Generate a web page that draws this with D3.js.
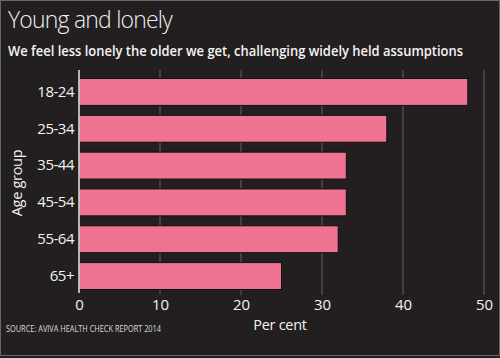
<!DOCTYPE html>
<html><head><meta charset="utf-8">
<script src="https://cdn.jsdelivr.net/npm/d3@7"></script>
<style>html,body{margin:0;padding:0;background:#231f20;}svg{display:block;}</style>
</head><body>
<script>
const categories = ["18-24","25-34","35-44","45-54","55-64","65+"];
const values = [48, 38, 33, 33, 32, 25];
const xTicks = [0, 10, 20, 30, 40, 50];
const title = "Young and lonely";
const subtitle = "We feel less lonely the older we get, challenging widely held assumptions";
const source = "SOURCE: AVIVA HEALTH CHECK REPORT 2014";

const W = 500, H = 358;
const svg = d3.select("body").append("svg").attr("width", W).attr("height", H);
svg.append("rect").attr("x",0.5).attr("y",0.5).attr("width",W-1).attr("height",H-3)
  .attr("fill","#231f20").attr("stroke","#6a6668").attr("stroke-width",1);

const x = d3.scaleLinear().domain([0,50]).range([79,484]);
const y = d3.scaleBand().domain(categories).range([73,295]).paddingInner(0.27).paddingOuter(0.15);

// grid
svg.append("g").selectAll("line").data(xTicks.slice(1)).join("line")
  .attr("x1",d=>x(d)).attr("x2",d=>x(d)).attr("y1",70).attr("y2",295)
  .attr("stroke","#5a5658").attr("stroke-width",1.2);

// bars
svg.append("g").selectAll("rect").data(values).join("rect")
  .attr("x", x(0)).attr("y",(d,i)=>y(categories[i]))
  .attr("width", d=>x(d)-x(0)).attr("height", y.bandwidth())
  .attr("fill","#f07393").attr("stroke","#111").attr("stroke-width",1);

// zero axis line
svg.append("line").attr("x1",x(0)).attr("x2",x(0)).attr("y1",70).attr("y2",293)
  .attr("stroke","#e8e8e8").attr("stroke-width",1.5);

const font = "'Open Sans', sans-serif";
// y axis labels
const yAxis = d3.axisLeft(y).tickSize(0).tickPadding(4);
const gy = svg.append("g").attr("transform",`translate(${x(0)-1},0)`).call(yAxis);
gy.select(".domain").remove();
gy.selectAll("text").attr("fill","#f2f2f2").attr("font-family",font).attr("font-size",15).attr("letter-spacing",-0.5);

// x axis labels
const xAxis = d3.axisBottom(x).tickValues(xTicks).tickSize(0).tickPadding(0);
const gx = svg.append("g").attr("transform",`translate(0,296)`).call(xAxis);
gx.select(".domain").remove();
gx.selectAll("text").attr("fill","#f2f2f2").attr("font-family",font).attr("font-size",15).attr("dy","0.95em");

// axis titles
svg.append("text").attr("transform","translate(22,183) rotate(-90)").attr("text-anchor","middle")
  .attr("fill","#f2f2f2").attr("font-family",font).attr("font-size",14.5).attr("letter-spacing",-0.3).text("Age group");
svg.append("text").attr("x",280).attr("y",330).attr("text-anchor","middle")
  .attr("fill","#f2f2f2").attr("font-family",font).attr("font-size",14.5).attr("letter-spacing",-0.3).text("Per cent");

// title
svg.append("text").attr("x",8).attr("y",28).attr("fill","#eeeeee").attr("font-family",font)
  .attr("font-weight",300).attr("font-size",23).attr("letter-spacing",-0.8).text(title);
svg.append("text").attr("x",8).attr("y",56).attr("fill","#f4f4f4").attr("font-family",font)
  .attr("font-weight",600).attr("font-size",13.5).attr("textLength",455).attr("lengthAdjust","spacingAndGlyphs").text(subtitle);
svg.append("text").attr("x",6).attr("y",332).attr("fill","#dddddd").attr("font-family",font)
  .attr("font-size",8.5).attr("textLength",155).attr("lengthAdjust","spacingAndGlyphs").text(source);
</script>
</body></html>
